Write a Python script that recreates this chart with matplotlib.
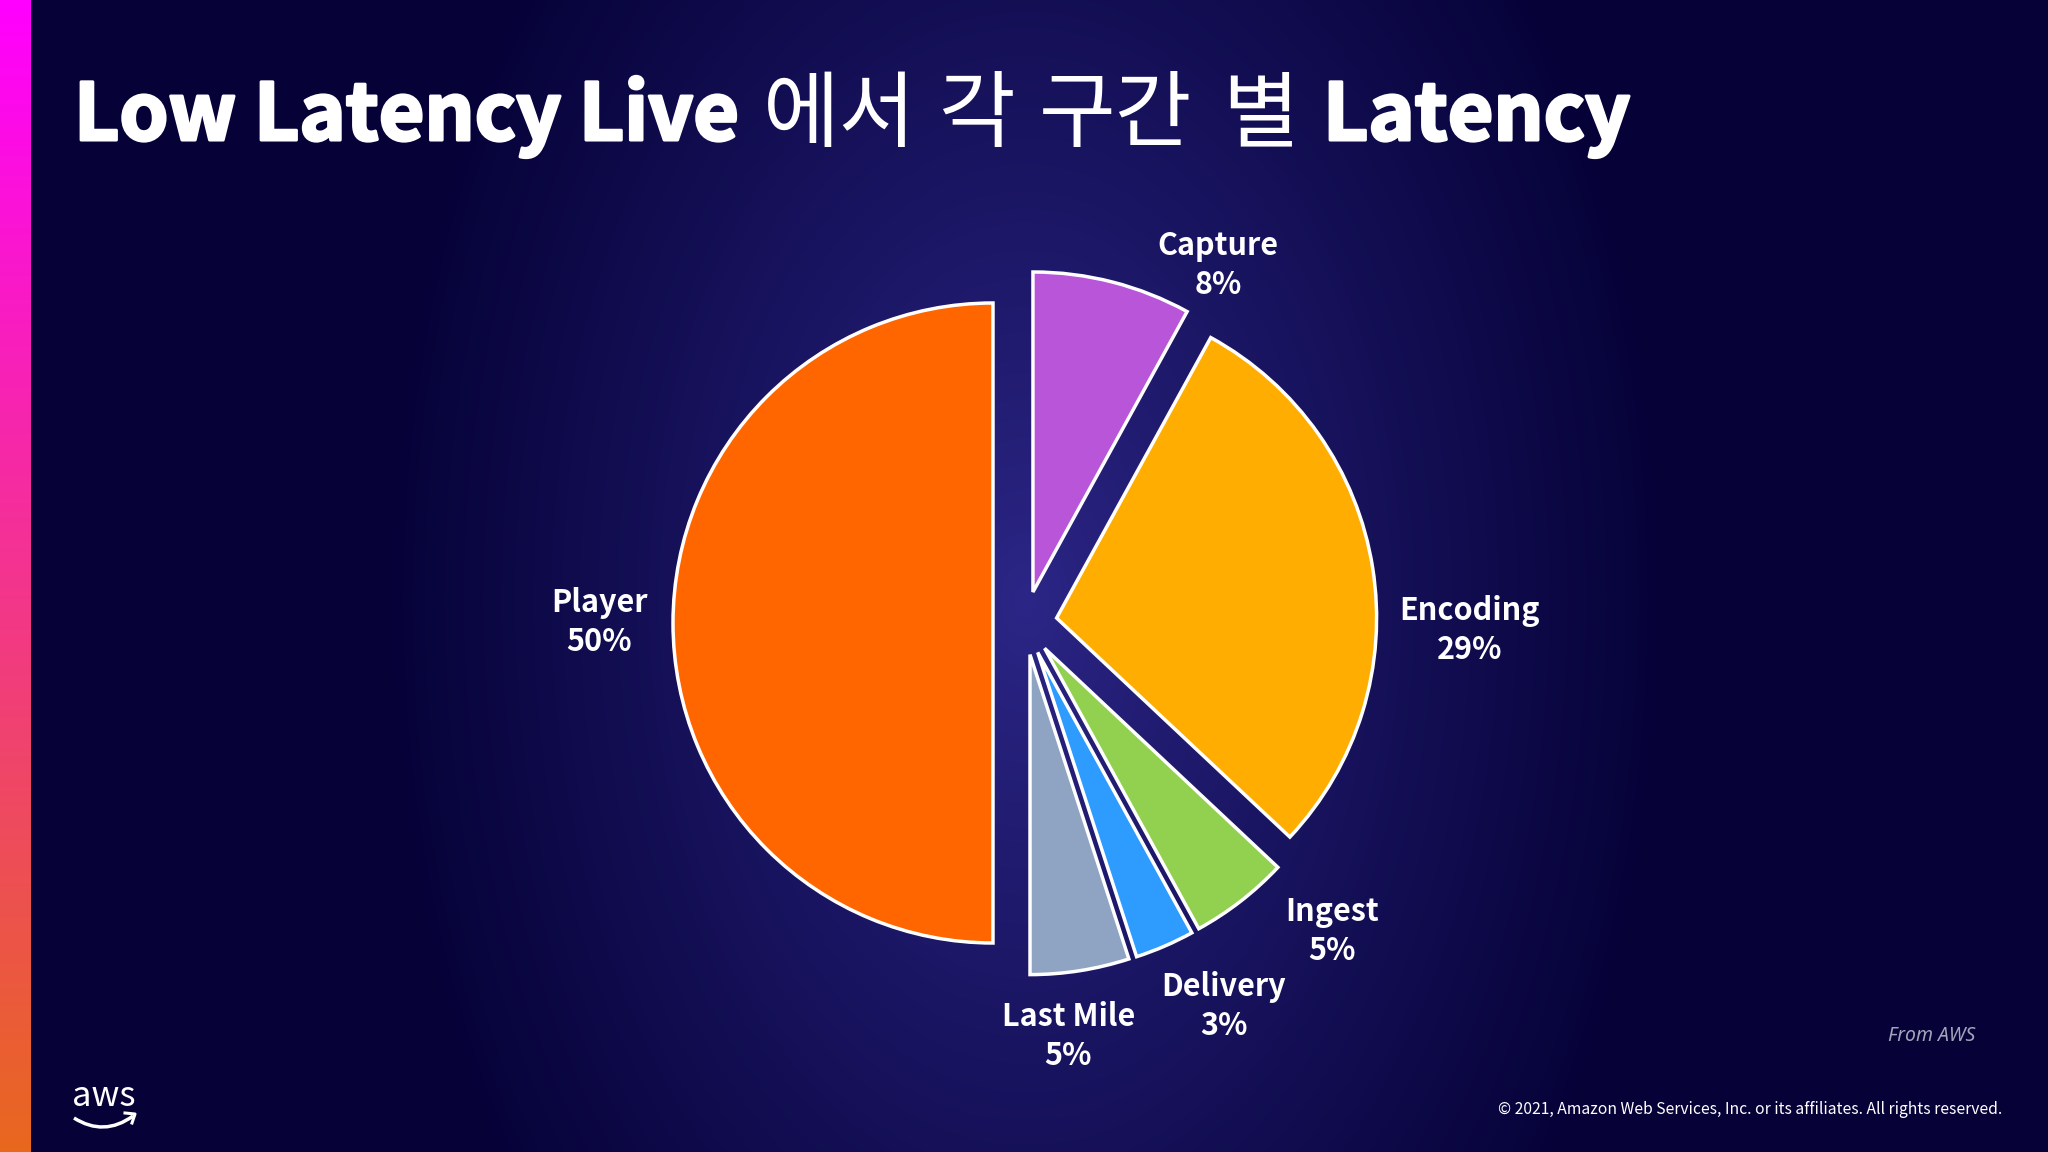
import numpy as np
import matplotlib.pyplot as plt
from matplotlib.path import Path
import matplotlib.patches as mpatches
import matplotlib.patheffects as pe

plt.rcParams['font.family'] = ['Noto Sans CJK KR', 'DejaVu Sans']

# data
stages = ['Capture', 'Encoding', 'Ingest', 'Delivery', 'Last Mile', 'Player']
latency_pct = [8, 29, 5, 3, 5, 50]
colors = ['#B955D9', '#FFAD00', '#92D050', '#2E9BFF', '#8FA3C2', '#FF6600']

# label placement (radius multiple, angle nudge in degrees)
label_r = [1.27, 1.39, 1.36, 1.35, 1.30, 1.33]
label_dtheta = [-14, -10, 7, 4, -3, 0]

title_words = ["Low Latency Live", "에서", "각", "구간", "별", "Latency"]
title_gaps = [24, 22, 24, 30, 24]

W, H = 2048, 1152
fig = plt.figure(figsize=(W / 100, H / 100), dpi=100)
ax = fig.add_axes([0, 0, 1, 1])

# background: dark navy with a soft glow in the middle
yy, xx = np.mgrid[0:H, 0:W]
d = np.sqrt(((xx - 1025) / 640) ** 2 + ((yy - 600) / 1000) ** 2)
t = np.clip(d, 0, 1) ** 0.9
c0 = np.array([44, 38, 135]) / 255
c1 = np.array([6, 2, 56]) / 255
bg = c0 * (1 - t[..., None]) + c1 * t[..., None]
ax.imshow(bg, extent=(0, W, 0, H), origin='upper', zorder=0, aspect='auto')

# left accent bar
g = np.linspace(0, 1, 300)[:, None, None]
top = np.array([255, 0, 255]) / 255
bot = np.array([232, 104, 30]) / 255
bar = top * (1 - g) + bot * g
ax.imshow(bar, extent=(0, 31, 0, H), origin='upper', zorder=1, aspect='auto')

# pie
cxp, cyp, R = 1025, H - 623, 320
wedges, _ = ax.pie(latency_pct, colors=colors, explode=[0.1 * R] * len(latency_pct),
                   startangle=90, counterclock=False, center=(cxp, cyp), radius=R,
                   frame=True, wedgeprops=dict(edgecolor='white', linewidth=2.5))
for w in wedges:
    w.set_zorder(3)

for i, w in enumerate(wedges):
    ang = np.deg2rad((w.theta1 + w.theta2) / 2 + label_dtheta[i])
    ax.text(cxp + label_r[i] * R * np.cos(ang), cyp + label_r[i] * R * np.sin(ang),
            f"{stages[i]}\n{latency_pct[i]}%", ha='center', va='center',
            fontsize=22, fontweight='bold', color='white', linespacing=1.28, zorder=4)

ax.set_xlim(0, W)
ax.set_ylim(0, H)
ax.axis('off')

# title, heavy latin + light hangul
renderer = fig.canvas.get_renderer()
heavy = [pe.withStroke(linewidth=2.2, foreground='white')]
x = 74
for i, s in enumerate(title_words):
    latin = s.isascii()
    tt = ax.text(x, H - 140, s, fontsize=56.5 if latin else 60,
                 fontweight='bold' if latin else 'light', color='white',
                 ha='left', va='baseline', zorder=5,
                 path_effects=heavy if latin else None)
    bb = tt.get_window_extent(renderer)
    if i < len(title_gaps):
        x = bb.x1 + title_gaps[i]

# footer
ax.text(1975, H - 1036, "From AWS", fontsize=14, style='italic', color='#A3A3BC',
        ha='right', va='center', family=['Noto Sans', 'DejaVu Sans'])
ax.text(2002, H - 1110, "© 2021, Amazon Web Services, Inc. or its affiliates. All rights reserved.",
        fontsize=11.3, color='white', ha='right', va='center')

# aws logo
ax.text(104, H - 1097, "aws", fontsize=25, color='white', ha='center', va='center')
smile = Path([(74, H - 1118), (104, H - 1137), (133, H - 1116)],
             [Path.MOVETO, Path.CURVE3, Path.CURVE3])
ax.add_patch(mpatches.PathPatch(smile, fc='none', ec='white', lw=2.5, zorder=5))
ax.plot([125, 135, 132], [H - 1113, H - 1114, H - 1123], color='white', lw=2.2, zorder=5)

fig.savefig('out.png', dpi=100)
